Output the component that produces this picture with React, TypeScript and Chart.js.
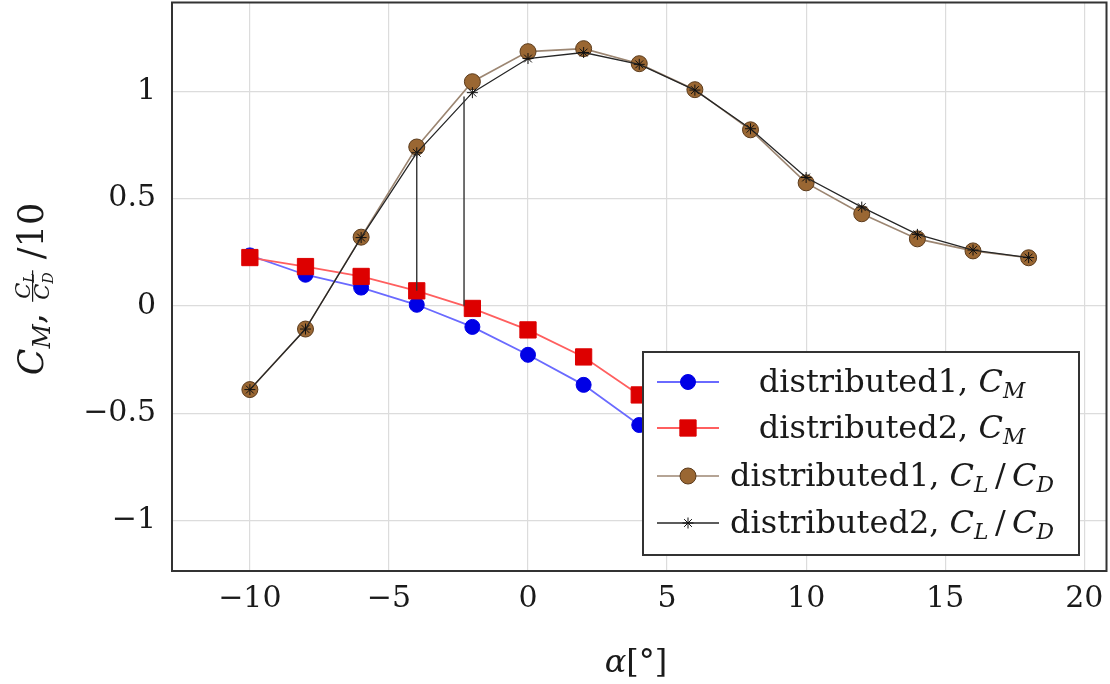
import React, { useEffect, useRef } from "react";
import Chart from "chart.js/auto";
import { drawPoint } from "chart.js/helpers";

// angle of attack, degrees
const alpha = [-10, -8, -6, -4, -2, 0, 2, 4, 6, 8, 10, 12, 14, 16, 18];

// moment coefficient (values right of 4° sit under the legend, estimated)
const cmDistributed1 = [0.235, 0.145, 0.085, 0.005, -0.098, -0.228, -0.368, -0.555, -0.68, -0.78, -0.86, -0.92, -0.96, -0.99, -1.02];
const cmDistributed2 = [0.225, 0.183, 0.137, 0.07, -0.012, -0.112, -0.238, -0.415, -0.55, -0.65, -0.73, -0.8, -0.85, -0.88, -0.9];

// lift over drag, divided by 10
const clcdDistributed1 = [-0.39, -0.108, 0.32, 0.74, 1.044, 1.184, 1.198, 1.128, 1.007, 0.82, 0.573, 0.429, 0.312, 0.256, 0.224];
const clcdDistributed2 = [-0.39, -0.108, 0.318, 0.713, 0.993, 1.152, 1.18, 1.125, 1.005, 0.825, 0.598, 0.46, 0.333, 0.26, 0.225];

// the two vertical connector lines
const dropX = [-4, -2.3];
const dropTop = [0.713, 0.975];
const dropBottom = [0.07, 0.0];

const xTicks = [-10, -5, 0, 5, 10, 15, 20];
const yTicks = [-1, -0.5, 0, 0.5, 1];

type Seg = { t: string; it?: boolean; sub?: boolean };

const legendLabels: Seg[][] = [
  [{ t: "distributed1, " }, { t: "C", it: true }, { t: "M", it: true, sub: true }],
  [{ t: "distributed2, " }, { t: "C", it: true }, { t: "M", it: true, sub: true }],
  [{ t: "distributed1, " }, { t: "C", it: true }, { t: "L", it: true, sub: true }, { t: "\u2009/\u2009" }, { t: "C", it: true }, { t: "D", it: true, sub: true }],
  [{ t: "distributed2, " }, { t: "C", it: true }, { t: "L", it: true, sub: true }, { t: "\u2009/\u2009" }, { t: "C", it: true }, { t: "D", it: true, sub: true }],
];

const FAMILY = '"DejaVu Serif", serif';
const fontOf = (size: number, it?: boolean) => `${it ? "italic " : ""}${size}px ${FAMILY}`;

// chart.js keeps ~10px it won't let go of at top/right, so the canvas is
// a bit bigger than the page and pulled up; overlay drawing uses page coords
const SHIFT_Y = 10;

const segsWidth = (ctx: CanvasRenderingContext2D, segs: Seg[], size: number) => {
  let w = 0;
  for (const s of segs) {
    ctx.font = fontOf(s.sub ? size * 0.68 : size, s.it);
    w += ctx.measureText(s.t).width;
  }
  return w;
};

const drawSegs = (ctx: CanvasRenderingContext2D, segs: Seg[], x: number, y: number, size: number) => {
  let cx = x;
  ctx.textAlign = "left";
  ctx.textBaseline = "alphabetic";
  for (const s of segs) {
    ctx.font = fontOf(s.sub ? size * 0.68 : size, s.it);
    ctx.fillText(s.t, cx, y + (s.sub ? size * 0.2 : 0));
    cx += ctx.measureText(s.t).width;
  }
  return cx;
};

const series = [
  { line: "#6a6aff", fill: "#0000e6", stroke: "#0000e6", style: "circle", radius: 7.5, width: 1.8 },
  { line: "#ff5f5f", fill: "#dd0000", stroke: "#dd0000", style: "rect", radius: 11.5, width: 1.8 },
  { line: "#9c8672", fill: "#9a6733", stroke: "#5b3b1c", style: "circle", radius: 8, width: 1.6 },
  { line: "#262626", fill: "#111111", stroke: "#111111", style: "star", radius: 5.5, width: 1.3 },
];

const overlay = {
  id: "overlay",
  afterDatasetsDraw(chart: any) {
    const ctx: CanvasRenderingContext2D = chart.ctx;
    const { left, top, right, bottom } = chart.chartArea;
    ctx.save();
    // frame
    ctx.strokeStyle = "#333333";
    ctx.lineWidth = 2;
    ctx.strokeRect(left, top, right - left, bottom - top);

    ctx.translate(0, SHIFT_Y);
    // legend box
    const lx = 643, ly = 352, lw = 436, lh = 203;
    ctx.fillStyle = "#ffffff";
    ctx.fillRect(lx, ly, lw, lh);
    ctx.strokeStyle = "#333333";
    ctx.lineWidth = 2;
    ctx.strokeRect(lx, ly, lw, lh);

    const rows = [382, 428, 476, 523];
    rows.forEach((ry, i) => {
      const s = series[i];
      ctx.strokeStyle = s.line;
      ctx.lineWidth = s.width;
      ctx.beginPath();
      ctx.moveTo(657, ry);
      ctx.lineTo(719, ry);
      ctx.stroke();
      ctx.fillStyle = s.fill;
      ctx.strokeStyle = s.stroke;
      ctx.lineWidth = 1;
      drawPoint(ctx, { pointStyle: s.style as any, rotation: 0, radius: s.radius, borderWidth: 1 }, 688, ry);
      ctx.fillStyle = "#1a1a1a";
      const w = segsWidth(ctx, legendLabels[i], 32);
      drawSegs(ctx, legendLabels[i], 892 - w / 2, ry + 10, 32);
    });
    ctx.restore();
  },
  afterDraw(chart: any) {
    const ctx: CanvasRenderingContext2D = chart.ctx;
    ctx.save();
    ctx.translate(0, SHIFT_Y);
    ctx.fillStyle = "#1a1a1a";

    // x axis title: α [°]
    const xSegs: Seg[] = [{ t: "α", it: true }, { t: "[°]" }];
    const xw = segsWidth(ctx, xSegs, 32);
    drawSegs(ctx, xSegs, 636 - xw / 2, 672, 32);

    // y axis title: C_M, C_L/C_D /10 (rotated)
    const main = 35;
    const small = 21;
    const head: Seg[] = [{ t: "C", it: true }, { t: "M", it: true, sub: true }, { t: ", " }];
    const num: Seg[] = [{ t: "C", it: true }, { t: "L", it: true, sub: true }];
    const den: Seg[] = [{ t: "C", it: true }, { t: "D", it: true, sub: true }];
    const tail: Seg[] = [{ t: " /10" }];
    const hw = segsWidth(ctx, head, main);
    const nw = segsWidth(ctx, num, small);
    const dw = segsWidth(ctx, den, small);
    const fw = Math.max(nw, dw) + 4;
    const tw = segsWidth(ctx, tail, main);
    const total = hw + fw + tw;

    ctx.translate(43, 289);
    ctx.rotate(-Math.PI / 2);
    let cx = -total / 2;
    cx = drawSegs(ctx, head, cx, 0, main);
    drawSegs(ctx, num, cx + (fw - nw) / 2, -13, small);
    ctx.fillRect(cx, -11, fw, 1.2);
    drawSegs(ctx, den, cx + (fw - dw) / 2, 6, small);
    cx += fw;
    drawSegs(ctx, tail, cx, 0, main);
    ctx.restore();
  },
};

const toPoints = (ys: number[]) => alpha.map((x, i) => ({ x, y: ys[i] }));

const noPadding = (s: any) => {
  s.paddingTop = 0;
  s.paddingBottom = 0;
  s.paddingLeft = 0;
  s.paddingRight = 0;
};

const App = () => {
  const canvasRef = useRef<HTMLCanvasElement>(null);

  useEffect(() => {
    if (!canvasRef.current) return;
    const dropData = dropX.flatMap((x, i) => [
      { x, y: dropTop[i] },
      { x, y: dropBottom[i] },
      { x, y: null },
    ]);
    const values = [cmDistributed1, cmDistributed2, clcdDistributed1, clcdDistributed2];
    const names = ["distributed1, CM", "distributed2, CM", "distributed1, CL/CD", "distributed2, CL/CD"];

    const chart = new Chart(canvasRef.current, {
      type: "line",
      data: {
        datasets: [
          ...values.map((ys, i) => ({
            label: names[i],
            data: toPoints(ys),
            borderColor: series[i].line,
            borderWidth: series[i].width,
            backgroundColor: series[i].fill,
            pointBackgroundColor: series[i].fill,
            pointBorderColor: series[i].stroke,
            pointBorderWidth: 1,
            pointStyle: series[i].style as any,
            pointRadius: series[i].radius,
            tension: 0,
            fill: false,
            order: 4 - i,
          })),
          {
            label: "connector",
            data: dropData as any,
            borderColor: "#333333",
            borderWidth: 1.4,
            pointRadius: 0,
            spanGaps: false,
            fill: false,
            order: 0,
          },
        ],
      },
      options: {
        animation: false,
        responsive: true,
        maintainAspectRatio: false,
        layout: { padding: { top: 3, right: 4, left: 0, bottom: 0 } },
        plugins: {
          legend: { display: false },
          tooltip: { enabled: false },
        },
        scales: {
          x: {
            type: "linear",
            min: -12.8,
            max: 20.8,
            afterBuildTicks: (s: any) => {
              s.ticks = xTicks.map((v) => ({ value: v }));
            },
            afterFit: (s: any) => {
              s.height = 113;
              noPadding(s);
            },
            grid: { color: "#dcdcdc", lineWidth: 1.2, drawTicks: false },
            border: { display: false },
            ticks: {
              padding: 10,
              color: "#1a1a1a",
              font: { family: FAMILY, size: 30 },
              callback: (v: any) => String(v).replace("-", "\u2212"),
            },
          },
          y: {
            type: "linear",
            min: -1.235,
            max: 1.413,
            afterBuildTicks: (s: any) => {
              s.ticks = yTicks.map((v) => ({ value: v }));
            },
            afterFit: (s: any) => {
              s.width = 172;
              noPadding(s);
            },
            grid: { color: "#dcdcdc", lineWidth: 1.2, drawTicks: false },
            border: { display: false },
            ticks: {
              padding: 16,
              color: "#1a1a1a",
              font: { family: FAMILY, size: 30 },
              callback: (v: any) => String(v).replace("-", "\u2212"),
            },
          },
        },
      },
      plugins: [overlay],
    });

    return () => {
      chart.destroy();
    };
  }, []);

  return (
    <div
      style={{
        position: "fixed",
        left: 0,
        top: -SHIFT_Y,
        width: 1119,
        height: 684 + SHIFT_Y,
        background: "#ffffff",
      }}
    >
      <canvas ref={canvasRef} />
    </div>
  );
};

export default App;
